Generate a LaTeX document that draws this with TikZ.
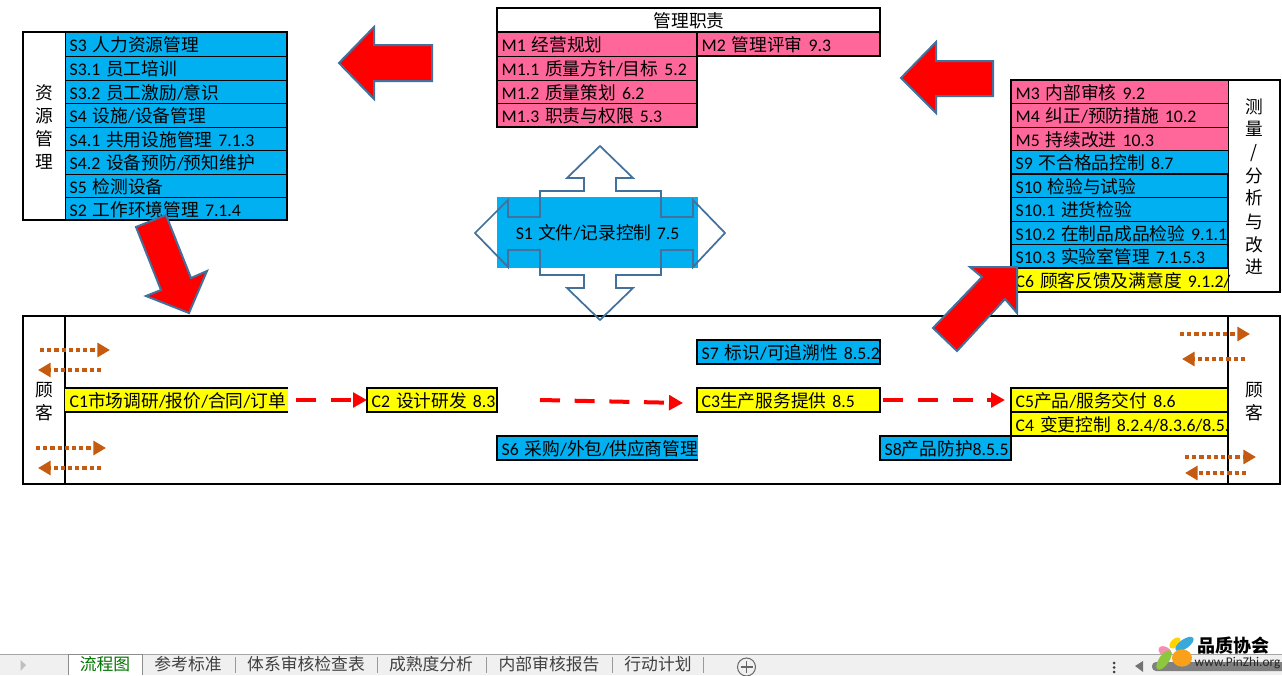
\documentclass[tikz,border=0pt]{standalone}
\usepackage{fontspec}
\setmainfont[WordSpace=0.62]{Carlito}
\newfontfamily\cjk{Noto Sans CJK SC}
\newcommand\z[1]{{\cjk\fontsize{13.3}{16}\selectfont #1}}
\usetikzlibrary{arrows.meta,shapes.geometric}
\definecolor{cy}{HTML}{00B0F0}
\definecolor{pk}{HTML}{FF6699}
\definecolor{ye}{HTML}{FFFF00}
\definecolor{br}{HTML}{C55A11}
\definecolor{ol}{HTML}{41719C}
\definecolor{tabbg}{HTML}{F0F0F0}
\tikzset{
 cellbox/.style={rectangle,draw=black,line width=0.75pt,inner ysep=0pt,inner xsep=3.5pt,outer sep=0pt,
   text height=11.6pt,text depth=0pt,align=left,font=\fontsize{13.3}{16}\selectfont},
 nobord/.style={draw=none},
 thickb/.style={line width=1.5pt},
 framebox/.style={rectangle,draw=black,line width=1.6pt,inner sep=0pt,outer sep=0pt},
 sidetext/.style={inner sep=0pt,font=\fontsize{13.3}{16}\selectfont},
 redarrow/.style={fill=red,draw=ol,line width=1.5pt,line join=miter},
 quadarrow/.style={draw=ol,line width=1.3pt,line join=miter},
 flow/.style={draw=red,line width=3pt,dash pattern=on 15pt off 11pt,-{Triangle[length=10.5pt,width=11pt]}},
 cust/.style={draw=br,line width=3pt,dash pattern=on 3.2pt off 2.2pt,-{Triangle[length=9.5pt,width=10.5pt]}},
 tabtext/.style={inner sep=0pt,text=black!75,font=\cjk\fontsize{12.6}{15}\selectfont},
 tabsep/.style={draw=black!40,line width=0.75pt},
 petal/.style={ellipse,inner sep=0pt,draw=none},
}
\newcommand\rowcell[7][]{%
 \pgfmathsetmacro\cw{(#4-#2)*0.75}%
 \pgfmathsetmacro\ch{(#5-#3)*0.75}%
 \pgfmathsetmacro\tw{\cw-7}%
 \node[cellbox,fill=#6,minimum width=\cw pt,minimum height=\ch pt,text width=\tw pt,#1] (r#2x#3) at ({(#2+#4)/2},{(#3+#5)/2}) {\mbox{#7}};}
\newcommand\framenode[5]{%
 \pgfmathsetmacro\cw{(#4-#2)*0.75}%
 \pgfmathsetmacro\ch{(#5-#3)*0.75}%
 \node[framebox,minimum width=\cw pt,minimum height=\ch pt] (#1) at ({(#2+#4)/2},{(#3+#5)/2}) {};}
\begin{document}
\begin{tikzpicture}[x=0.75pt,y=-0.75pt]
\useasboundingbox (0,0) rectangle (1282,675);
% left table
\rowcell{65}{32}{287}{56}{cy}{S3 \z{人力资源管理}}
\rowcell{65}{56}{287}{80}{cy}{S3.1 \z{员工培训}}
\rowcell{65}{80}{287}{103}{cy}{S3.2 \z{员工激励}/\z{意识}}
\rowcell{65}{103}{287}{127}{cy}{S4 \z{设施}/\z{设备管理}}
\rowcell{65}{127}{287}{150}{cy}{S4.1 \z{共用设施管理} 7.1.3}
\rowcell{65}{150}{287}{174}{cy}{S4.2 \z{设备预防}/\z{预知维护}}
\rowcell{65}{174}{287}{197}{cy}{S5 \z{检测设备}}
\rowcell{65}{197}{287}{220}{cy}{S2 \z{工作环境管理} 7.1.4}
\framenode{resframe}{23}{32}{287}{220}
\draw[line width=0.75pt] (65,32) -- (65,220);
\node[sidetext] (l1) at (44,93) {\z{资}};
\node[sidetext] (l2) at (44,116) {\z{源}};
\node[sidetext] (l3) at (44,139) {\z{管}};
\node[sidetext] (l4) at (44,162) {\z{理}};
% top table
\rowcell{497}{8}{880}{32}{white}{\hspace*{0pt}}
\node[sidetext] (mgt) at (689,21) {\z{管理职责}};
\rowcell{497}{32}{697}{56}{pk}{M1 \z{经营规划}}
\rowcell{697}{32}{880}{56}{pk}{M2 \z{管理评审} 9.3}
\rowcell{497}{56}{697}{80}{pk}{M1.1 \z{质量方针}/\z{目标} 5.2}
\rowcell{497}{80}{697}{103}{pk}{M1.2 \z{质量策划} 6.2}
\rowcell{497}{103}{697}{127}{pk}{M1.3 \z{职责与权限} 5.3}
\framenode{f1}{497}{8}{880}{32}
\framenode{f2}{697}{32}{880}{56}
\framenode{f3}{497}{32}{697}{127}
% right table
\rowcell{1011}{80}{1228}{103}{pk}{M3 \z{内部审核} 9.2}
\rowcell{1011}{103}{1228}{127}{pk}{M4 \z{纠正}/\z{预防措施} 10.2}
\rowcell{1011}{127}{1228}{150}{pk}{M5 \z{持续改进} 10.3}
\rowcell{1011}{150}{1228}{174}{cy}{S9 \z{不合格品控制} 8.7}
\rowcell{1011}{174}{1228}{197}{cy}{S10 \z{检验与试验}}
\rowcell{1011}{197}{1228}{221}{cy}{S10.1 \z{进货检验}}
\rowcell{1011}{221}{1228}{244}{cy}{S10.2 \z{在制品成品检验} 9.1.1}
\rowcell{1011}{244}{1228}{268}{cy}{S10.3 \z{实验室管理} 7.1.5.3}
\rowcell{1011}{268}{1228}{292}{ye}{C6 \z{顾客反馈及满意度} 9.1.2/}
\framenode{f4}{1011}{174}{1228}{268}
\framenode{f5}{1011}{80}{1280}{292}
\draw[line width=0.75pt] (1228,80) -- (1228,292);
\foreach \t/\yy in {测/107,量/129,{/}/153,分/176,析/198,与/222,改/245,进/267}{
  \node[sidetext] (m\yy) at (1254,\yy) {\z{\t}};}
% S1
\node[rectangle,fill=cy,minimum width=150.75pt,minimum height=53.25pt,inner sep=0pt,outer sep=0pt,font=\fontsize{13.3}{16}\selectfont] (S1) at (597.5,232.5) {\raisebox{-0.8pt}{S1\hspace{4pt}\z{文件}/\z{记录控制}\hspace{4pt}7.5}};
% bottom frame
\framenode{proc}{23}{316}{1280}{484}
\draw[line width=1.2pt] (65,316) -- (65,484);
\draw[line width=1.2pt] (1228,316) -- (1228,484);
\node[sidetext] (c1a) at (44,390) {\z{顾}};
\node[sidetext] (c1b) at (44,413) {\z{客}};
\node[sidetext] (c2a) at (1254,390) {\z{顾}};
\node[sidetext] (c2b) at (1254,413) {\z{客}};
\rowcell[nobord]{65}{388}{288}{412}{ye}{C1\z{市场调研}/\z{报价}/\z{合同}/\z{订单}}
\draw[thickb] (r65x388.north west) -- (r65x388.north east);
\draw[thickb] (r65x388.south west) -- (r65x388.south east);
\rowcell[thickb]{367}{388}{497}{412}{ye}{C2 \z{设计研发} 8.3}
\rowcell[thickb]{697}{388}{880}{412}{ye}{C3\z{生产服务提供} 8.5}
\rowcell[thickb]{697}{340}{880}{364}{cy}{S7 \z{标识}/\z{可追溯性} 8.5.2}
\rowcell[nobord]{497}{436}{698}{460}{cy}{S6 \z{采购}/\z{外包}/\z{供应商管理}}
\draw[thickb] (r497x436.north east) -- (r497x436.north west) -- (r497x436.south west) -- (r497x436.south east);
\rowcell[thickb]{880}{436}{1011}{460}{cy}{S8\z{产品防护}8.5.5}
\rowcell[thickb]{1011}{388}{1228}{412}{ye}{C5\z{产品}/\z{服务交付} 8.6}
\rowcell[thickb]{1011}{412}{1228}{436}{ye}{C4 \z{变更控制} 8.2.4/8.3.6/8.5.}
% flow connectors
\coordinate (s2) at (540,400);
\coordinate (e2) at (683,403);
\draw[flow,shorten <=6pt] (r65x388.east |- 0,400) -- (r367x388.west |- 0,400);
\draw[flow] (s2) -- (e2);
\draw[flow,shorten <=2.5pt,shorten >=4.5pt] (r697x388.east |- 0,400) -- (r1011x388.west |- 0,400);
% customer arrows
\foreach \n/\a/\b/\yy in {a/40/110/350,b/101/38/370,c/36/106/448,d/101/38/468,e/1180/1250/334,f/1245/1182/359,g/1185/1256/457,h/1246/1185/473}{
  \coordinate (\n0) at (\a,\yy);
  \coordinate (\n1) at (\b,\yy);
  \draw[cust] (\n0) -- (\n1);}
% quad arrow
\draw[quadarrow] (600,146) -- (633,178) -- (616,178) -- (616,191) -- (661,191) -- (661,217) -- (693,217) -- (693,200) -- (725,233) -- (693,267) -- (693,250) -- (661,250) -- (661,275) -- (616,275) -- (616,288) -- (633,288) -- (600,320) -- (567,288) -- (584,288) -- (584,275) -- (540,275) -- (540,250) -- (508,250) -- (508,267) -- (475,233) -- (508,200) -- (508,217) -- (540,217) -- (540,191) -- (584,191) -- (584,178) -- (567,178) -- cycle;
% big red arrows
\draw[redarrow] (339,63) -- (374,27) -- (374,45) -- (432,45) -- (432,81) -- (374,81) -- (374,99) -- cycle;
\draw[redarrow] (901,78) -- (936,42) -- (936,61) -- (993,61) -- (993,96) -- (936,96) -- (936,113) -- cycle;
\draw[redarrow] (136,227) -- (166,215) -- (191,278) -- (207,271) -- (189,313) -- (146,296) -- (161,290) -- cycle;
\draw[redarrow] (1017,267) -- (970,267) -- (982,277) -- (933,328) -- (957,351) -- (1005,299) -- (1017,313) -- cycle;
% sheet tab bar
\fill[tabbg] (0,654) rectangle (1282,675);
\draw[black!35,line width=0.75pt] (0,654) -- (1282,654);
\fill[white] (68,654) rectangle (142,675);
\draw[black!45,line width=0.75pt] (68,675) -- (68,654) -- (142,654) -- (142,675);
\fill[black!25] (20.5,660) -- (26,665) -- (20.5,671) -- cycle;
\node[tabtext,text=green!45!black] (t1) at (105,664) {流程图};
\node[tabtext] (t2) at (188,664) {参考标准};
\node[tabtext] (t3) at (306,664) {体系审核检查表};
\node[tabtext] (t4) at (431,664) {成熟度分析};
\node[tabtext] (t5) at (549,664) {内部审核报告};
\node[tabtext] (t6) at (658,664) {行动计划};
\foreach \sx in {235,377,486,612,703}{\draw[tabsep] (\sx,657) -- (\sx,673);}
\draw[black!60,line width=0.75pt] (746.5,667) circle (9);
\draw[black!60,line width=0.9pt] (746.5,661) -- (746.5,673) (740.5,667) -- (752.5,667);
\foreach \yy in {663,667.5,672}{\fill[black!75] (1114,\yy) circle (1.5);}
\fill[black!55] (1143,661) -- (1135,666) -- (1143,672) -- cycle;
\fill[black!50,rounded corners=3pt] (1152,662) rectangle (1290,671);
% logo
\definecolor{lp}{HTML}{F48FB1}
\definecolor{ly}{HTML}{FFD400}
\definecolor{lb}{HTML}{39A9DC}
\definecolor{lg}{HTML}{8DC63F}
\definecolor{lo}{HTML}{F9A11B}
\node[petal,fill=lp,minimum width=10.5pt,minimum height=7pt,rotate=-30] (p1) at (1165,651.5) {};
\node[petal,fill=ly,minimum width=10pt,minimum height=6pt,rotate=45] (p2) at (1175,643) {};
\node[petal,fill=lb,minimum width=16pt,minimum height=7pt,rotate=35] (p3) at (1184.5,644) {};
\node[petal,fill=lg,minimum width=17pt,minimum height=7.5pt,rotate=55] (p4) at (1164,660) {};
\node[petal,fill=lo,minimum width=15pt,minimum height=13pt] (p5) at (1182,658) {};
\node[inner sep=0pt,font=\fontsize{13.5}{15}\bfseries] (lg1) at (1233.5,646) {\cjk 品质协会};
\node[inner sep=0pt,font=\fontsize{10}{11}\selectfont,text=black!85] (lg2) at (1237.5,663.5) {www.PinZhi.org};
\end{tikzpicture}
\end{document}
